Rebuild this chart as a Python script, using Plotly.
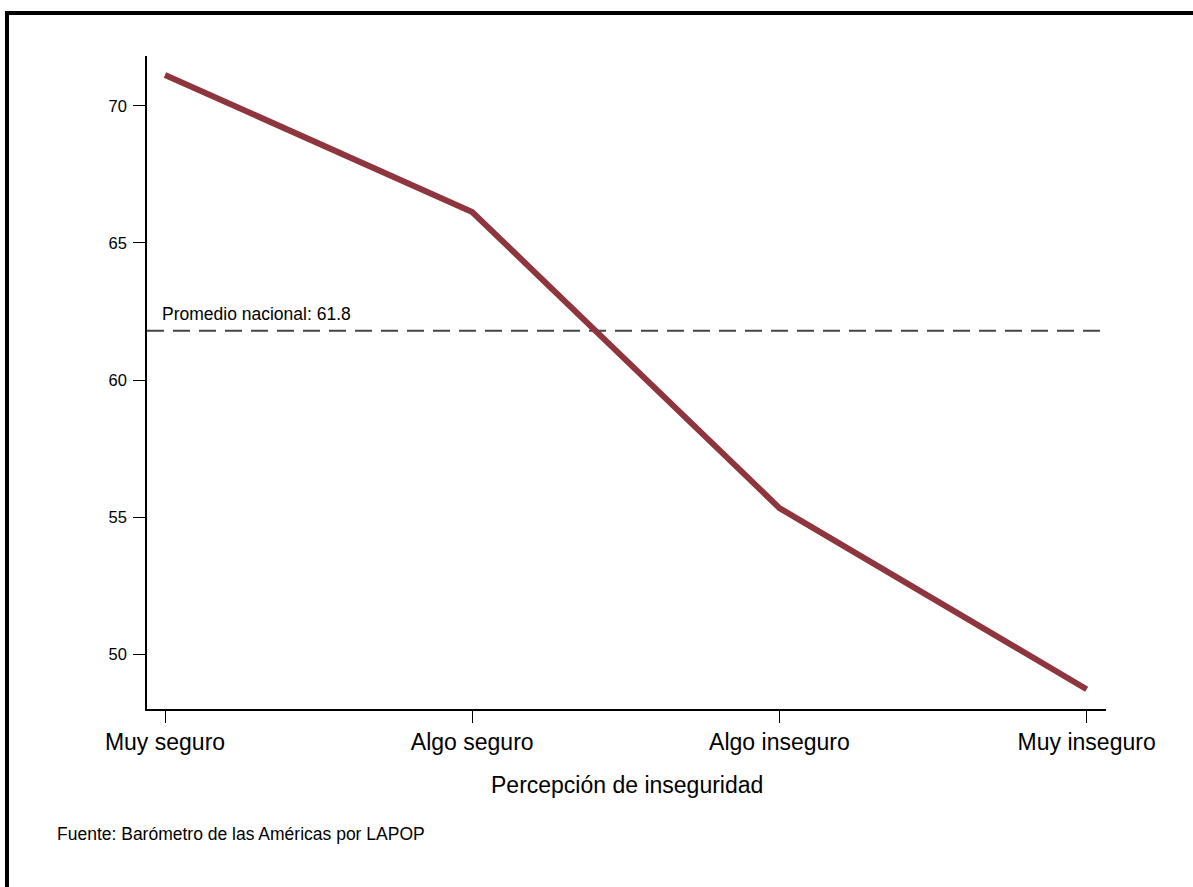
import plotly.graph_objects as go

categories = ["Muy seguro", "Algo seguro", "Algo inseguro", "Muy inseguro"]
values = [71.13, 66.13, 55.33, 48.72]
national_avg = 61.8
y_ticks = [50, 55, 60, 65, 70]

x_idx = list(range(len(categories)))

fig = go.Figure()
fig.add_trace(go.Scatter(
    x=x_idx, y=values, mode="lines",
    line=dict(color="#8f353d", width=6),
    showlegend=False, hoverinfo="skip",
))

font_family = "Liberation Sans, Arial, sans-serif"

fig.update_layout(
    width=1193, height=887,
    margin=dict(l=147, r=87, t=56, b=178, autoexpand=False),
    paper_bgcolor="white", plot_bgcolor="white",
    font=dict(family=font_family, color="black"),
    xaxis=dict(
        range=[-0.0586, 3.063],
        tickvals=x_idx, ticktext=categories,
        showline=True, linecolor="black", linewidth=1.5,
        ticks="outside", ticklen=12, tickwidth=1.2, tickcolor="black",
        showgrid=False, zeroline=False,
        tickfont=dict(size=23, family=font_family, color="black"),
    ),
    yaxis=dict(
        range=[48.0, 71.82],
        tickvals=y_ticks,
        showline=True, linecolor="black", linewidth=1.5,
        ticks="outside", ticklen=12, tickwidth=1.2, tickcolor="black",
        showgrid=False, zeroline=False, ticklabelstandoff=3,
        tickfont=dict(size=16.5, family=font_family, color="black"),
    ),
    shapes=[
        dict(type="line", xref="paper", yref="y", x0=0, x1=1,
             y0=national_avg, y1=national_avg,
             line=dict(color="#444444", width=2, dash="17px,9px"), layer="below"),
        dict(type="line", xref="paper", yref="paper", x0=-0.146, x1=1.2,
             y0=1.0659, y1=1.0659, line=dict(color="black", width=4)),
        dict(type="line", xref="paper", yref="paper", x0=-0.146, x1=-0.146,
             y0=1.0689, y1=-0.5, line=dict(color="black", width=4)),
    ],
    annotations=[
        dict(text=f"Promedio nacional: {national_avg}", xref="paper", yref="y",
             x=0.0136, y=national_avg, xanchor="left", yanchor="bottom", yshift=5,
             showarrow=False, font=dict(size=17.5, family=font_family, color="black")),
        dict(text="Percepción de inseguridad", xref="paper", yref="paper",
             x=0.5, y=-0.1164, xanchor="center", yanchor="middle",
             showarrow=False, font=dict(size=23, family=font_family, color="black")),
        dict(text="Fuente: Barómetro de las Américas por LAPOP", xref="paper", yref="paper",
             x=-0.0962, y=-0.1914, xanchor="left", yanchor="middle",
             showarrow=False, font=dict(size=17.5, family=font_family, color="black")),
    ],
)

fig.write_html("out.html", config={"displayModeBar": False},
               post_script="document.body.style.margin='0px';")
